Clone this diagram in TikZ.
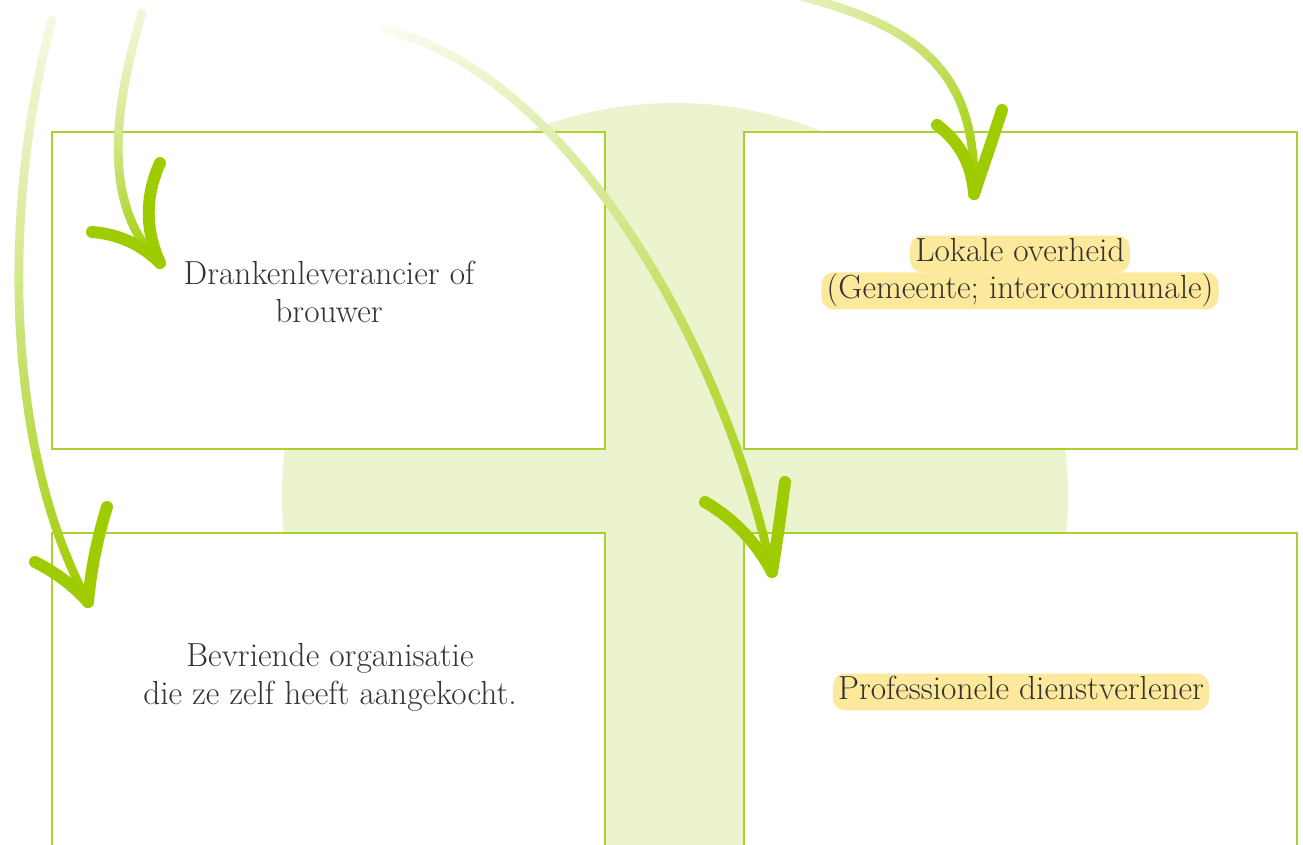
\documentclass[tikz,border=0pt]{standalone}
\usepackage{tikz}
\usetikzlibrary{positioning}
\definecolor{leaf}{HTML}{9FCC00}
\definecolor{wash}{HTML}{EBF3CF}
\definecolor{rim}{HTML}{A9D22E}
\definecolor{marker}{HTML}{FDE99B}
\definecolor{ink}{HTML}{333333}
\tikzset{
  card/.style={draw=rim, line width=0.8pt, fill=white, inner sep=0pt, outer sep=0pt},
  txt/.style={text=ink, font=\fontsize{19}{21.6}\selectfont, align=center},
  hilite/.style={txt, fill=marker, rounded corners=0.25cm, inner xsep=3pt, inner ysep=1.5pt,
    text height=13.5pt, text depth=4.5pt, outer sep=0pt},
  shaft/.style={line width=5pt, line cap=round},
  barb/.style={draw=leaf, line width=6.8pt, line cap=round},
}
% curved stroke that darkens towards its end
\newcommand{\fadeshaft}[5]{%
  \foreach \k in {0,...,40}{
    \pgfmathsetmacro\tpos{\k/40}
    \path #1 .. controls #2 and #3 .. #4 coordinate[pos=\tpos] (sh\k);
  }
  \foreach \k [remember=\k as \j (initially 0)] in {1,...,40}{
    \pgfmathtruncatemacro\mix{#5+(100-#5)*(\k/40)^1.2}
    \draw[shaft, draw=leaf!\mix!white] (sh\j) -- (sh\k);
  }
}

\begin{document}
\begin{tikzpicture}[x=0.02cm, y=-0.02cm]
        \clip (0,0) rectangle (1303,845);
        \fill[wash] (675,496) circle (393);
        \fill[wash] (605,300) rectangle (744,845);

        \node[card, minimum width=11.06cm, minimum height=6.34cm] (drank) at (328.5,290.5) {};
        \node[card, minimum width=11.06cm, minimum height=6.34cm] (overheid) at (1020.5,290.5) {};
        \node[card, minimum width=11.06cm, minimum height=7.34cm] (vriend) at (328.5,716.5) {};
        \node[card, minimum width=11.06cm, minimum height=7.34cm] (dienst) at (1020.5,716.5) {};

        \node[txt] (drankTxt) at (329,292) {Drankenleverancier of\\brouwer};
        \node[txt] (vriendTxt) at (330,677) {Bevriende organisatie\\die ze zelf heeft aangekocht.};
        \node[hilite] (lok) at (1020,254) {Lokale overheid};
        \node[hilite, below=0pt of lok] (gem) {(Gemeente; intercommunale)};
        \node[hilite] (prof) at (1021,692) {Professionele dienstverlener};

        % arrows: start, tip and barb ends
        \coordinate (a1s) at (52,20);   \coordinate (a1t) at (88,602);
        \coordinate (a1l) at (35,562);  \coordinate (a1r) at (107,507);
        \coordinate (a2s) at (142,13);  \coordinate (a2t) at (160,263);
        \coordinate (a2l) at (92,232);  \coordinate (a2r) at (160,163);
        \coordinate (a3s) at (385,30);  \coordinate (a3t) at (772,572);
        \coordinate (a3l) at (705,502); \coordinate (a3r) at (785,482);
        \coordinate (a4s) at (700,-25); \coordinate (a4t) at (974,194);
        \coordinate (a4l) at (937,125); \coordinate (a4r) at (1002,110);

        \fadeshaft{(a1s)}{(3,200)}{(3,445)}{(a1t)}{12}
        \fadeshaft{(a2s)}{(110,120)}{(105,210)}{(a2t)}{15}
        \fadeshaft{(a3s)}{(560,70)}{(720,330)}{(a3t)}{5}
        \fadeshaft{(a4s)}{(900,10)}{(978,50)}{(a4t)}{15}

        \draw[barb] (a1l) .. controls (55,572) and (73,585) .. (a1t);
        \draw[barb] (a1r) .. controls (97,539) and (91,570) .. (a1t);
        \draw[barb] (a2l) .. controls (118,234) and (141,244) .. (a2t);
        \draw[barb] (a2r) .. controls (145,196) and (145,230) .. (a2t);
        \draw[barb] (a3l) .. controls (734,519) and (756,542) .. (a3t);
        \draw[barb] (a3r) .. controls (781,512) and (777,542) .. (a3t);
        \draw[barb] (a4l) .. controls (960,142) and (972,165) .. (a4t);
        \draw[barb] (a4r) .. controls (993,138) and (983,167) .. (a4t);
\end{tikzpicture}
\end{document}
